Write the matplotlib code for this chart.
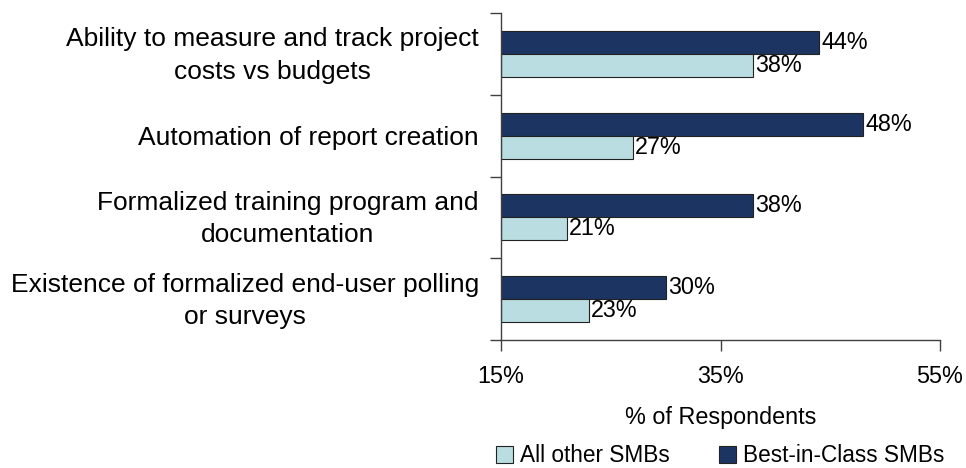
import numpy as np
import matplotlib.pyplot as plt
from matplotlib.transforms import ScaledTranslation

plt.rcParams["font.family"] = ["Liberation Sans", "DejaVu Sans"]

# Data
categories = [
    "Ability to measure and track project\ncosts vs budgets",
    "Automation of report creation",
    "Formalized training program and\ndocumentation",
    "Existence of formalized end-user polling\nor surveys",
]
best_in_class = [44, 48, 38, 30]
all_other = [38, 27, 21, 23]
x_ticks = [15, 35, 55]

dark = "#1B3461"
light = "#B9DDE0"
fs_cat = 19
fs = 16.8

fig = plt.figure(figsize=(9.66, 4.68), dpi=100)
ax = fig.add_axes([501 / 966, 1 - 340 / 468, 439 / 966, 327 / 468])

y = np.arange(len(categories))
h = 0.28
base = 15

bars_best = ax.barh(y - h / 2, np.array(best_in_class) - base, h, left=base,
                    color=dark, edgecolor="#222222", linewidth=0.8,
                    label="Best-in-Class SMBs")
bars_other = ax.barh(y + h / 2, np.array(all_other) - base, h, left=base,
                     color=light, edgecolor="#222222", linewidth=0.8,
                     label="All other SMBs")

for bars, vals in [(bars_best, best_in_class), (bars_other, all_other)]:
    for bar, v in zip(bars, vals):
        ax.text(v + 0.2, bar.get_y() + bar.get_height() / 2, f"{v}%",
                va="center", ha="left", fontsize=fs)

ax.set_xlim(15, 55)
ax.set_ylim(len(categories) - 0.5, -0.5)

ax.set_xticks(x_ticks)
ax.set_xticklabels([f"{t}%" for t in x_ticks], fontsize=fs)
ax.tick_params(axis="x", length=8, width=1, color="#404040", pad=10)

ax.set_yticks(np.arange(len(categories) + 1) - 0.5)
ax.set_yticklabels([])
ax.tick_params(axis="y", which="major", length=8, width=1, color="#404040")
ax.set_yticks(y, minor=True)
ax.set_yticklabels(categories, minor=True, fontsize=fs_cat,
                   multialignment="center", linespacing=1.45)
ax.tick_params(axis="y", which="minor", length=0, pad=16)

# nudge two-line labels up a little
shift = ScaledTranslation(0, 5 / 100, fig.dpi_scale_trans)
for lab in ax.get_yticklabels(minor=True):
    if "\n" in lab.get_text():
        lab.set_transform(lab.get_transform() + shift)

ax.set_xlabel("% of Respondents", fontsize=fs, labelpad=13)

for s in ["top", "right"]:
    ax.spines[s].set_visible(False)
for s in ["left", "bottom"]:
    ax.spines[s].set_color("#404040")
    ax.spines[s].set_linewidth(1)

handles = [bars_other, bars_best]
fig.legend(handles, ["All other SMBs", "Best-in-Class SMBs"], loc="center",
           bbox_to_anchor=(720 / 966, 1 - 456 / 468), ncol=2, frameon=False,
           fontsize=16.3, handlelength=0.75, handleheight=0.75,
           handletextpad=0.3, columnspacing=2.2, borderpad=0)

fig.savefig("out.png", dpi=100)
